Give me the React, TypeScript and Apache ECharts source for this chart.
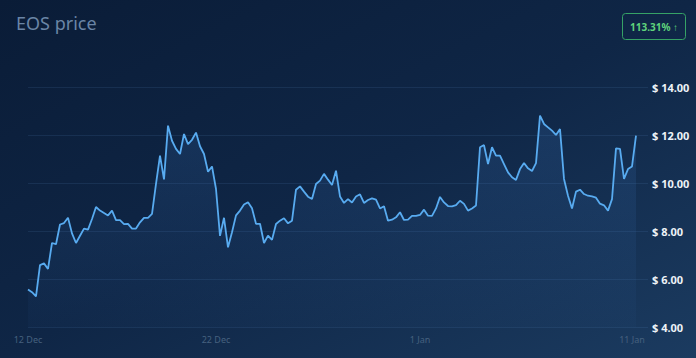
import React, { useEffect, useRef } from "react";
import * as echarts from "echarts";

const title = "EOS price";
const changeLabel = "113.31% ↑";

const prices: number[] = [
  5.56, 5.45, 5.28, 6.58, 6.65, 6.42, 7.5, 7.45, 8.27, 8.33,
  8.55, 7.9, 7.5, 7.8, 8.1, 8.06, 8.5, 9.0, 8.85, 8.75,
  8.65, 8.85, 8.45, 8.45, 8.29, 8.3, 8.1, 8.1, 8.36, 8.55,
  8.55, 8.71, 9.96, 11.14, 10.15, 12.39, 11.76, 11.42, 11.21, 12.04,
  11.62, 11.8, 12.1, 11.53, 11.21, 10.47, 10.69, 9.75, 7.8, 8.55,
  7.32, 7.95, 8.65, 8.85, 9.1, 9.2, 8.95, 8.3, 8.3, 7.5,
  7.81, 7.63, 8.29, 8.43, 8.53, 8.32, 8.43, 9.72, 9.86, 9.64,
  9.43, 9.33, 9.96, 10.1, 10.38, 10.14, 9.92, 10.51, 9.44, 9.17,
  9.33, 9.19, 9.44, 9.53, 9.17, 9.29, 9.36, 9.31, 8.94, 9.03,
  8.43, 8.47, 8.57, 8.78, 8.46, 8.47, 8.63, 8.63, 8.67, 8.89,
  8.64, 8.63, 8.94, 9.42, 9.19, 9.04, 9.03, 9.08, 9.26, 9.13,
  8.85, 8.94, 9.06, 11.49, 11.58, 10.79, 11.49, 11.14, 11.14, 10.79,
  10.44, 10.24, 10.13, 10.58, 10.83, 10.61, 10.5, 10.83, 12.81, 12.46,
  12.32, 12.18, 12.0, 12.25, 10.17, 9.47, 8.94, 9.64, 9.72, 9.54,
  9.47, 9.44, 9.39, 9.14, 9.07, 8.85, 9.33, 11.44, 11.42, 10.17,
  10.58, 10.69, 11.97,
];

const tickLabels = ["12 Dec", "22 Dec", "1 Jan", "11 Jan"];
const tickIndices = [0, 47, 98, 151];
const totalSlots = 156;

const yMin = 4;
const yMax = 14;
const yStep = 2;

export default function App() {
  const ref = useRef<HTMLDivElement>(null);

  useEffect(() => {
    if (!ref.current) return;
    const chart = echarts.init(ref.current, null, { renderer: "svg" });
    const categories: string[] = [];
    for (let i = 0; i < totalSlots; i++) {
      const t = tickIndices.indexOf(i);
      categories.push(t >= 0 ? tickLabels[t] : String(i));
    }
    const seriesData = categories.map((_, i) => (i < prices.length ? prices[i] : null));

    chart.setOption({
      animation: false,
      backgroundColor: new echarts.graphic.LinearGradient(0, 0, 1, 1, [
        { offset: 0, color: "#0a1c37" },
        { offset: 0.5, color: "#0f2646" },
        { offset: 1, color: "#1b3b60" },
      ]),
      title: {
        text: title,
        left: 11,
        top: 9,
        textStyle: {
          color: "#6a85a6",
          fontSize: 18,
          fontWeight: "normal",
          fontFamily: "Noto Sans",
        },
      },
      grid: { left: 28, right: 48, top: 87, bottom: 31 },
      xAxis: {
        type: "category",
        data: categories,
        boundaryGap: false,
        axisLine: { show: false },
        axisTick: { show: false },
        splitLine: { show: false },
        axisLabel: {
          interval: (index: number) => tickIndices.indexOf(index) >= 0,
          formatter: (v: string) => v,
          color: "#46617f",
          fontSize: 9,
          fontFamily: "Noto Sans",
          margin: 8,
        },
      },
      yAxis: {
        type: "value",
        position: "right",
        min: yMin,
        max: yMax,
        interval: yStep,
        axisLine: { show: false },
        axisTick: { show: false },
        splitLine: { lineStyle: { color: "rgba(90,140,200,0.14)", width: 1 } },
        axisLabel: {
          formatter: (v: number) => "$ " + v.toFixed(2),
          color: "#eef3f8",
          fontSize: 11,
          fontWeight: "bold",
          fontFamily: "Noto Sans",
          margin: 4,
        },
      },
      series: [
        {
          type: "line",
          data: seriesData,
          showSymbol: false,
          symbol: "none",
          lineStyle: { color: "#58abf0", width: 1.8 },
          areaStyle: {
            color: new echarts.graphic.LinearGradient(0, 0, 0, 1, [
              { offset: 0, color: "rgba(60,120,195,0.28)" },
              { offset: 1, color: "rgba(60,120,195,0.05)" },
            ]),
          },
        },
      ],
      graphic: [
        {
          type: "rect",
          shape: { x: 622.5, y: 13.5, width: 63, height: 26, r: 3 },
          style: { fill: "transparent", stroke: "#36a266", lineWidth: 1 },
        },
        {
          type: "text",
          x: 654,
          y: 27,
          style: {
            text: changeLabel,
            fill: "#5fd47c",
            fontSize: 10,
            fontWeight: "bold",
            fontFamily: "Noto Sans",
            align: "center",
            verticalAlign: "middle",
          },
        },
      ],
    });
    return () => chart.dispose();
  }, []);

  return (
    <div
      ref={ref}
      style={{ position: "fixed", left: 0, top: 0, width: 696, height: 358 }}
    />
  );
}
